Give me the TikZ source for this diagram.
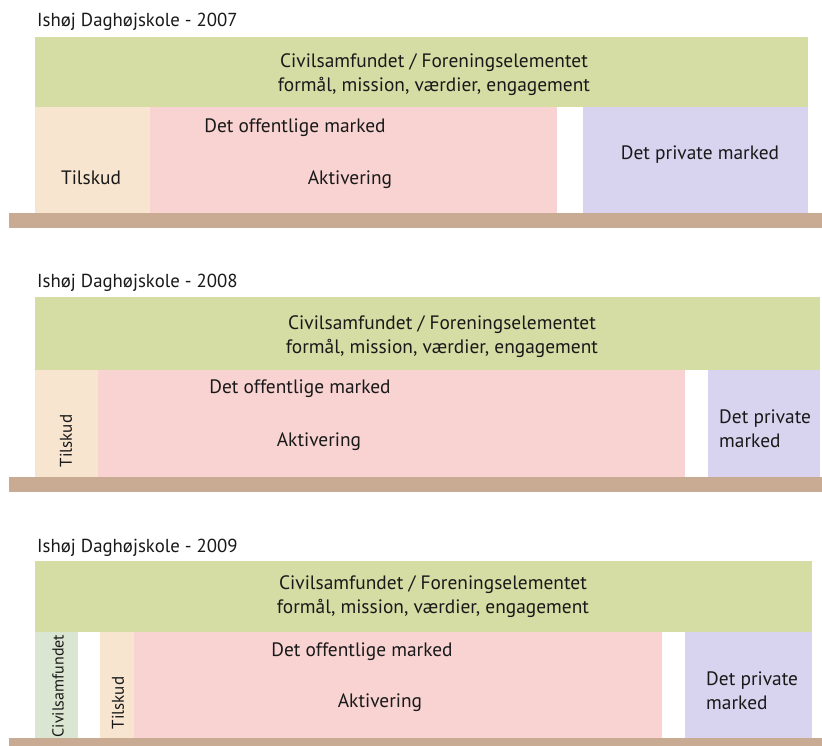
\documentclass[tikz,border=0pt]{standalone}
\usepackage{fontspec}
\setmainfont{PT Sans}
\usepackage{tikz}
\definecolor{civilgreen}{HTML}{D5DDA4}
\definecolor{civilpale}{HTML}{DAE5D2}
\definecolor{tilskudcol}{HTML}{F7E5D0}
\definecolor{offentligcol}{HTML}{F8D3D2}
\definecolor{privatcol}{HTML}{D8D3EE}
\definecolor{groundcol}{HTML}{C9AA92}
\tikzstyle{area} = [rectangle, anchor=north west, inner sep=0pt, outer sep=0pt, draw=none]
\tikzstyle{label} = [inner sep=0pt, yshift=-2pt, text=black!90, font=\fontsize{19.4}{24}\selectfont]
\tikzstyle{sidelabel} = [inner sep=0pt, rotate=90, text=black!90, font=\fontsize{17}{20}\selectfont]
\tikzstyle{title} = [label, anchor=west, font=\fontsize{18.8}{22}\selectfont]

\begin{document}
\begin{tikzpicture}[x=1pt, y=-1pt]
    \useasboundingbox (0,0) rectangle (822,746);

    % 2007
    \node(title7)[title] at (37,20) {Ishøj Daghøjskole - 2007};
    \node(civil7)[area, fill=civilgreen, minimum width=773pt, minimum height=70pt] at (35,37) {};
    \node(tilskud7)[area, fill=tilskudcol, minimum width=115pt, minimum height=106pt] at (35,107) {};
    \node(offentlig7)[area, fill=offentligcol, minimum width=407pt, minimum height=106pt] at (150,107) {};
    \node(privat7)[area, fill=privatcol, minimum width=225pt, minimum height=106pt] at (583,107) {};
    \node(ground7)[area, fill=groundcol, minimum width=813pt, minimum height=15pt] at (9,213) {};

    \node(civiltext7)[label, align=center] at (434,73) {Civilsamfundet / Foreningselementet\\formål, mission, værdier, engagement};
    \node(tilskudtext7)[label] at (91,176) {Tilskud};
    \node(offentligtext7)[label] at (295,126) {Det offentlige marked};
    \node(aktivtext7)[label] at (350,178) {Aktivering};
    \node(privattext7)[label] at (700,153) {Det private marked};

    % 2008
    \node(title8)[title] at (37,281) {Ishøj Daghøjskole - 2008};
    \node(civil8)[area, fill=civilgreen, minimum width=785pt, minimum height=73pt] at (35,297) {};
    \node(tilskud8)[area, fill=tilskudcol, minimum width=63pt, minimum height=107pt] at (35,370) {};
    \node(offentlig8)[area, fill=offentligcol, minimum width=587pt, minimum height=107pt] at (98,370) {};
    \node(privat8)[area, fill=privatcol, minimum width=112pt, minimum height=107pt] at (708,370) {};
    \node(ground8)[area, fill=groundcol, minimum width=813pt, minimum height=15pt] at (9,477) {};

    \node(civiltext8)[label, align=center] at (442,335) {Civilsamfundet / Foreningselementet\\formål, mission, værdier, engagement};
    \node(tilskudtext8)[sidelabel] at (66,441) {Tilskud};
    \node(offentligtext8)[label] at (300,387) {Det offentlige marked};
    \node(aktivtext8)[label] at (319,440) {Aktivering};
    \node(privattext8)[label, align=left, anchor=west] at (719,427) {Det private\\marked};

    % 2009
    \node(title9)[title] at (37,546) {Ishøj Daghøjskole - 2009};
    \node(civil9)[area, fill=civilgreen, minimum width=777pt, minimum height=71pt] at (35,561) {};
    \node(samfund9)[area, fill=civilpale, minimum width=43pt, minimum height=106pt] at (35,632) {};
    \node(tilskud9)[area, fill=tilskudcol, minimum width=34pt, minimum height=106pt] at (100,632) {};
    \node(offentlig9)[area, fill=offentligcol, minimum width=528pt, minimum height=106pt] at (134,632) {};
    \node(privat9)[area, fill=privatcol, minimum width=127pt, minimum height=106pt] at (685,632) {};
    \node(ground9)[area, fill=groundcol, minimum width=813pt, minimum height=8pt] at (9,738) {};

    \node(civiltext9)[label, align=center] at (433,595) {Civilsamfundet / Foreningselementet\\formål, mission, værdier, engagement};
    \node(samfundtext9)[sidelabel, font=\fontsize{16}{20}\selectfont] at (58,686) {Civilsamfundet};
    \node(tilskudtext9)[sidelabel] at (118,703) {Tilskud};
    \node(offentligtext9)[label] at (362,650) {Det offentlige marked};
    \node(aktivtext9)[label] at (380,701) {Aktivering};
    \node(privattext9)[label, align=left, anchor=west] at (706,689) {Det private\\marked};

\end{tikzpicture}
\end{document}
